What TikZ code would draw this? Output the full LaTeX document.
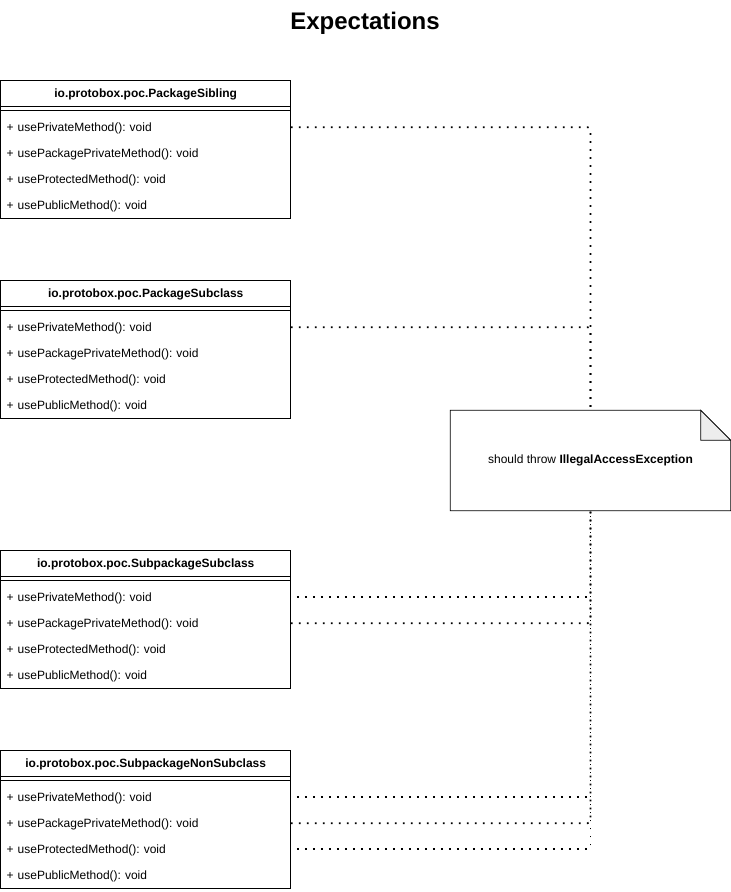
\documentclass[tikz,border=0pt]{standalone}
\usepackage{fontspec}
\setmainfont{Liberation Sans}
\frenchspacing
\begin{document}
\begin{tikzpicture}[x=1pt,y=-1pt,
  row/.style={text width=278pt, inner xsep=6pt, inner ysep=0pt, minimum height=26pt, text height=8pt, text depth=0pt, anchor=north west, align=left, font=\fontsize{12}{14}\selectfont},
  hdr/.style={minimum width=290pt, minimum height=26pt, inner sep=0pt, text height=8pt, text depth=0pt, anchor=north west, font=\fontsize{12}{14}\selectfont\bfseries},
  conn/.style={line width=1.7pt, dash pattern=on 1.8pt off 6.2pt, rounded corners=3pt},
  boxline/.style={line width=0.8pt}
]
\useasboundingbox (0,0) rectangle (731,892);
\node[font=\fontsize{24}{28}\selectfont\bfseries] (title) at (365,23) {Expectations};

% class boxes
\foreach \y/\nm/\cl in {80/a/PackageSibling, 280/b/PackageSubclass, 550/c/SubpackageSubclass, 750/d/SubpackageNonSubclass}{
  \draw[boxline] (0.5,\y) rectangle (290.5,\y+138);
  \draw[boxline] (0.5,\y+26) -- (290.5,\y+26);
  \draw[boxline] (0.5,\y+30) -- (290.5,\y+30);
  \node[hdr] (\nm h) at (0.5,\y) {io.protobox.poc.\cl};
  \node[row] (\nm 1) at (0.5,\y+34) {+ usePrivateMethod(): void};
  \node[row] (\nm 2) at (0.5,\y+60) {+ usePackagePrivateMethod(): void};
  \node[row] (\nm 3) at (0.5,\y+86) {+ useProtectedMethod(): void};
  \node[row] (\nm 4) at (0.5,\y+112) {+ usePublicMethod(): void};
}

% note
\node[minimum width=280pt, minimum height=100pt, inner sep=0pt, font=\fontsize{12}{14}\selectfont] (note) at (590.5,460.5) {should throw \textbf{IllegalAccessException}};
\draw[boxline] (note.north west) -- ([xshift=-30pt]note.north east) -- ([yshift=-30pt]note.north east) -- (note.south east) -- (note.south west) -- cycle;
\draw[boxline, fill=black!7] ([xshift=-30pt]note.north east) -- ([xshift=-30pt,yshift=-30pt]note.north east) -- ([yshift=-30pt]note.north east) -- cycle;

% connectors
\draw[conn] (a1.east) -| (note.north);
\draw[conn] (b1.east) -| (note.north);
\draw[conn, shorten <=6pt] (c1.east) -| (note.south);
\draw[conn] (c2.east) -| (note.south);
\draw[conn, shorten <=6pt] (d1.east) -| (note.south);
\draw[conn] (d2.east) -| (note.south);
\draw[conn, shorten <=6pt] (d3.east) -| (note.south);
\end{tikzpicture}
\end{document}
